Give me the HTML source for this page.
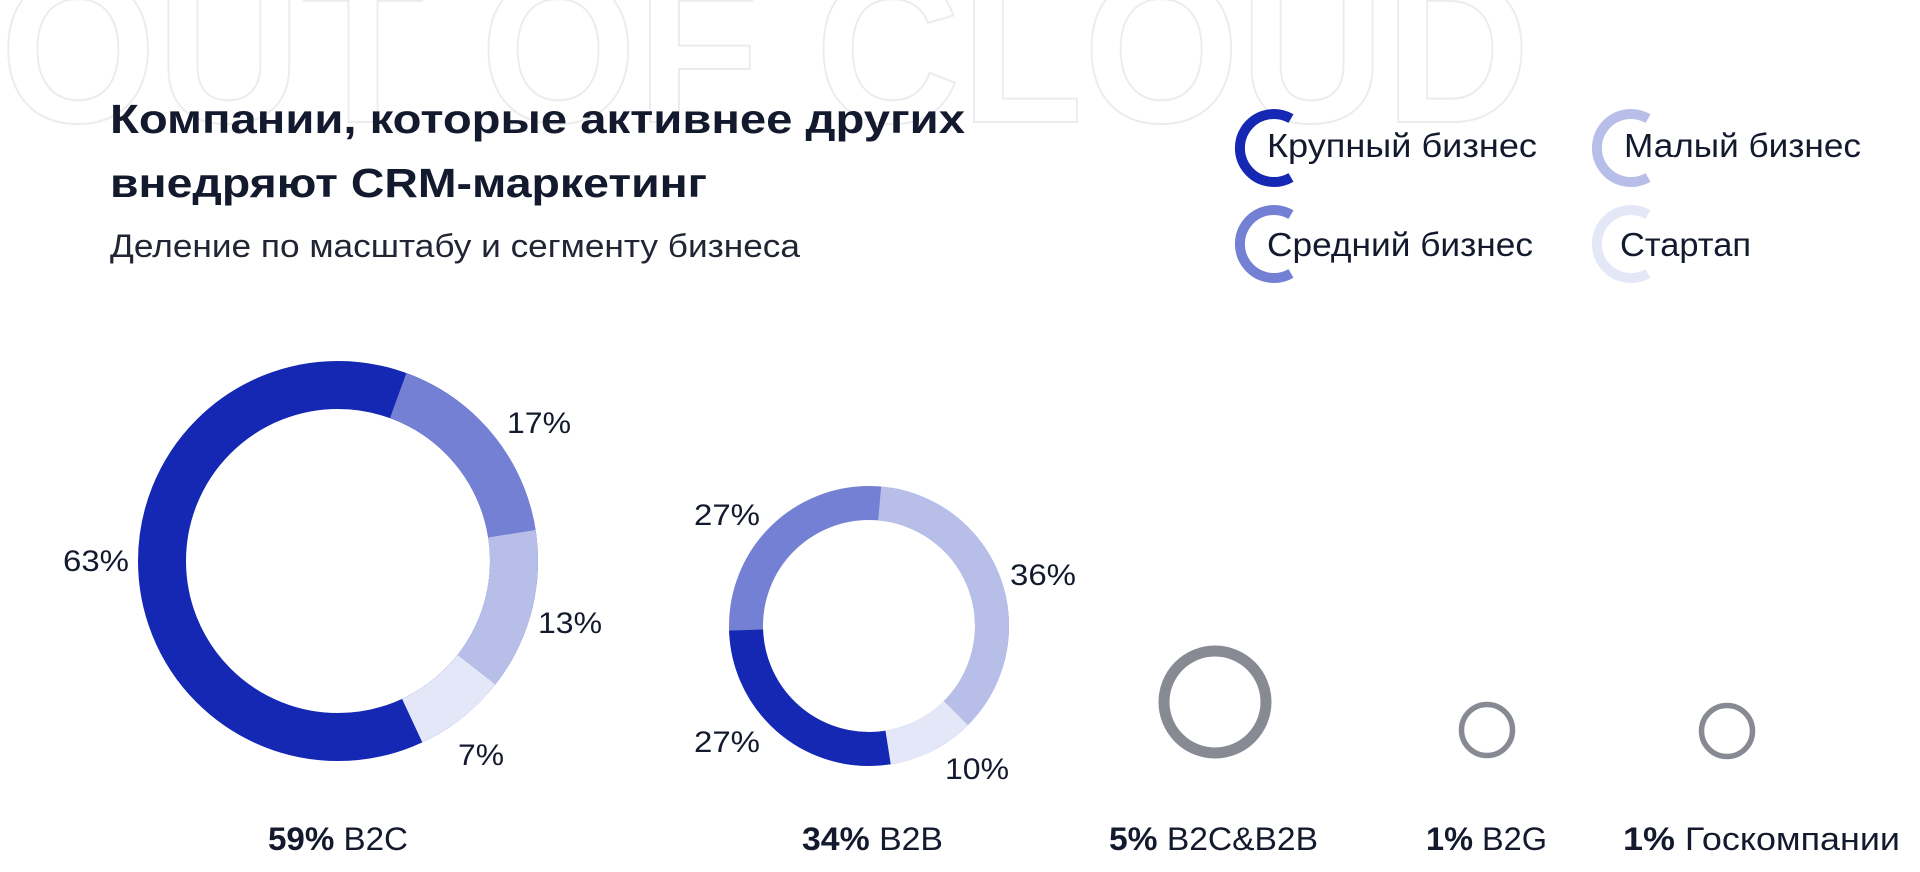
<!DOCTYPE html>
<html><head><meta charset="utf-8"><style>
html,body{margin:0;padding:0;background:#fff;}
svg{display:block;}
text{font-family:"Liberation Sans",sans-serif;}
</style></head><body>
<svg width="1920" height="872" viewBox="0 0 1920 872" xmlns="http://www.w3.org/2000/svg">
<rect width="1920" height="872" fill="#fff"/>
<text x="0" y="122" font-size="210" font-weight="bold" fill="none" stroke="#ececf0" stroke-width="2" textLength="1530" lengthAdjust="spacingAndGlyphs">OUT OF CLOUD</text>

<text x="110" y="133" font-size="41" font-weight="bold" fill="#141a2e" textLength="855" lengthAdjust="spacingAndGlyphs">Компании, которые активнее других</text>
<text x="110" y="197" font-size="41" font-weight="bold" fill="#141a2e" textLength="597" lengthAdjust="spacingAndGlyphs">внедряют CRM-маркетинг</text>
<text x="110" y="257" font-size="32" fill="#222634" textLength="690" lengthAdjust="spacingAndGlyphs">Деление по масштабу и сегменту бизнеса</text>

<g fill="none" stroke-width="10">
<path d="M1291 118.6 A34 34 0 1 0 1291 177.4" stroke="#1428b4"/>
<path d="M1291 214.6 A34 34 0 1 0 1291 273.4" stroke="#7480d3"/>
<path d="M1648 118.6 A34 34 0 1 0 1648 177.4" stroke="#b7bfe9"/>
<path d="M1648 214.6 A34 34 0 1 0 1648 273.4" stroke="#e4e7f7"/>
</g>
<g font-size="33" fill="#141a2e">
<text x="1267" y="157" textLength="270" lengthAdjust="spacingAndGlyphs">Крупный бизнес</text>
<text x="1267" y="256" textLength="266" lengthAdjust="spacingAndGlyphs">Средний бизнес</text>
<text x="1624" y="157" textLength="237" lengthAdjust="spacingAndGlyphs">Малый бизнес</text>
<text x="1620" y="256" textLength="131" lengthAdjust="spacingAndGlyphs">Стартап</text>
</g>

<!-- big donut r=176 C=1105.84 -->
<g fill="none" stroke-width="48" transform="rotate(-90 338 561)">
<circle cx="338" cy="561" r="176" stroke="#1428b4"/>
<circle cx="338" cy="561" r="176" stroke="#7480d3" stroke-dasharray="187.4 1105.84" stroke-dashoffset="-61.4"/>
<circle cx="338" cy="561" r="176" stroke="#b7bfe9" stroke-dasharray="144.4 1105.84" stroke-dashoffset="-248.8"/>
<circle cx="338" cy="561" r="176" stroke="#e4e7f7" stroke-dasharray="82.9 1105.84" stroke-dashoffset="-393.2"/>
</g>
<!-- medium donut r=123 C=772.83 -->
<g fill="none" stroke-width="34" transform="rotate(-90 869 626)">
<circle cx="869" cy="626" r="123" stroke="#7480d3"/>
<circle cx="869" cy="626" r="123" stroke="#b7bfe9" stroke-dasharray="279.1 772.83" stroke-dashoffset="-10.7"/>
<circle cx="869" cy="626" r="123" stroke="#e4e7f7" stroke-dasharray="77.3 772.83" stroke-dashoffset="-289.8"/>
<circle cx="869" cy="626" r="123" stroke="#1428b4" stroke-dasharray="208.2 772.83" stroke-dashoffset="-367.1"/>
</g>
<g fill="none" stroke="#878a93">
<circle cx="1215" cy="702" r="51" stroke-width="11"/>
<circle cx="1487" cy="730" r="25.5" stroke-width="5.5"/>
<circle cx="1727" cy="731" r="25.5" stroke-width="5.5"/>
</g>

<g font-size="30" fill="#141a2e">
<text x="507" y="433" textLength="64" lengthAdjust="spacingAndGlyphs">17%</text>
<text x="538" y="633" textLength="64" lengthAdjust="spacingAndGlyphs">13%</text>
<text x="458" y="765" textLength="46" lengthAdjust="spacingAndGlyphs">7%</text>
<text x="63" y="571" textLength="66" lengthAdjust="spacingAndGlyphs">63%</text>
<text x="694" y="525" textLength="66" lengthAdjust="spacingAndGlyphs">27%</text>
<text x="694" y="752" textLength="66" lengthAdjust="spacingAndGlyphs">27%</text>
<text x="1010" y="585" textLength="66" lengthAdjust="spacingAndGlyphs">36%</text>
<text x="945" y="779" textLength="64" lengthAdjust="spacingAndGlyphs">10%</text>
</g>
<g font-size="32" fill="#141a2e">
<text x="268" y="850" textLength="140" lengthAdjust="spacingAndGlyphs"><tspan font-weight="bold">59%</tspan> B2C</text>
<text x="802" y="850" textLength="141" lengthAdjust="spacingAndGlyphs"><tspan font-weight="bold">34%</tspan> B2B</text>
<text x="1109" y="850" textLength="209" lengthAdjust="spacingAndGlyphs"><tspan font-weight="bold">5%</tspan> B2C&amp;B2B</text>
<text x="1426" y="850" textLength="121" lengthAdjust="spacingAndGlyphs"><tspan font-weight="bold">1%</tspan> B2G</text>
<text x="1623" y="850" textLength="277" lengthAdjust="spacingAndGlyphs"><tspan font-weight="bold">1%</tspan> Госкомпании</text>
</g>
</svg>
</body></html>
